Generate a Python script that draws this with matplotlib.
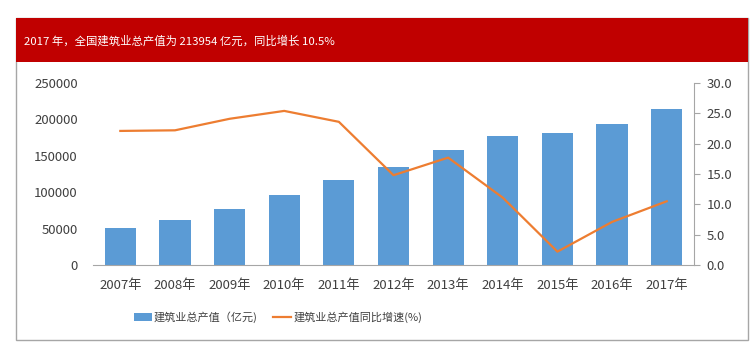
import matplotlib.pyplot as plt
import numpy as np
from matplotlib.patches import Rectangle

plt.rcParams['font.family'] = ['Noto Sans CJK SC', 'DejaVu Sans']

years = ['2007年', '2008年', '2009年', '2010年', '2011年', '2012年',
         '2013年', '2014年', '2015年', '2016年', '2017年']
output = [51044, 62037, 76808, 96031, 117060, 135000,
          158400, 176713, 180757, 193567, 213954]
growth = [22.1, 22.2, 24.1, 25.4, 23.6, 14.8, 17.7, 11.1, 2.2, 7.1, 10.5]
title = '2017 年，全国建筑业总产值为 213954 亿元，同比增长 10.5%'

W, H = 756, 347
fig = plt.figure(figsize=(W / 100, H / 100), dpi=100)
fig.patch.set_facecolor('white')

# outer frame and red header band
fig.patches.append(Rectangle((16 / W, 1 - 340 / H), (748 - 16) / W, (340 - 18) / H,
                             transform=fig.transFigure, facecolor='white',
                             edgecolor='#a6a6a6', lw=1, zorder=-2))
fig.patches.append(Rectangle((16 / W, 1 - 62 / H), (748 - 16) / W, (62 - 18) / H,
                             transform=fig.transFigure, facecolor='#c00000',
                             edgecolor='none', zorder=-1))
fig.text(24 / W, 1 - 41 / H, title, color='white', fontsize=8.2, va='center')

ax = fig.add_axes([93 / W, 1 - 265 / H, (694 - 93) / W, (265 - 83) / H])
ax.patch.set_visible(False)
x = np.arange(len(years))
bars = ax.bar(x, output, width=0.57, color='#5b9bd5', label='建筑业总产值（亿元)')
ax.set_ylim(0, 250000)
ax.set_yticks(range(0, 250001, 50000))
ax.set_xlim(-0.5, len(years) - 0.5)
ax.set_xticks(x)
ax.set_xticklabels(years)
for s in ['top', 'right', 'left']:
    ax.spines[s].set_visible(False)
ax.spines['bottom'].set_color('#a6a6a6')
ax.tick_params(axis='x', length=0, pad=10, labelsize=9.5, labelcolor='#404040')
ax.tick_params(axis='y', length=0, pad=11, labelsize=9.5, labelcolor='#404040')

ax2 = ax.twinx()
line, = ax2.plot(x, growth, color='#ed7d31', lw=1.6, label='建筑业总产值同比增速(%)')
ax2.set_ylim(0, 30)
ax2.set_yticks(np.arange(0, 30.1, 5))
ax2.set_yticklabels(['%.1f' % v for v in np.arange(0, 30.1, 5)])
for s in ['top', 'left', 'bottom']:
    ax2.spines[s].set_visible(False)
ax2.spines['right'].set_color('#a6a6a6')
ax2.tick_params(axis='y', direction='out', length=4, color='#a6a6a6',
                labelsize=9.5, labelcolor='#404040', pad=5)

fig.legend([bars, line], [bars.get_label(), line.get_label()],
           loc='center left', bbox_to_anchor=(124 / W, 1 - 317 / H), ncol=2,
           frameon=False, fontsize=8, handlelength=1.6, columnspacing=1.4,
           handletextpad=0.2, labelcolor='#404040')

fig.savefig('out.png', dpi=100)
